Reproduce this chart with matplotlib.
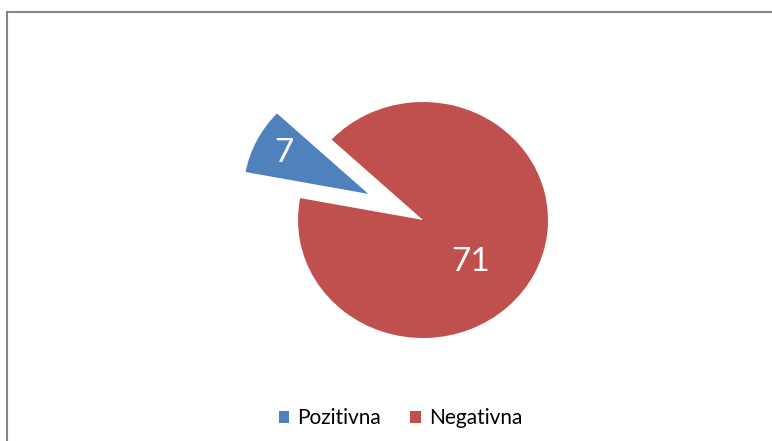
import numpy as np
import matplotlib.pyplot as plt
from matplotlib.patches import Patch
from matplotlib.lines import Line2D

plt.rcParams['font.family'] = ['Lato', 'DejaVu Sans']

labels = ['Pozitivna', 'Negativna']
values = [7, 71]
colors = ['#4F81BD', '#C0504D']
explode = [0.49, 0]
label_r = [0.76, 0.52]
label_shift = [0, -16]   # degrees, to follow the original label spots

fig = plt.figure(figsize=(7.72, 4.41), dpi=100)
ax = fig.add_axes([0.2889, 0.0730, 0.5181, 0.8562])

wedges, _ = ax.pie(values, colors=colors, explode=explode, startangle=137,
                   counterclock=True, wedgeprops=dict(linewidth=0))
ax.set_aspect('auto')
ax.set_xlim(-1.6, 1.6)
ax.set_ylim(-1.6, 1.6)
ax.axis('off')

for w, v, r, sh in zip(wedges, values, label_r, label_shift):
    mid = np.deg2rad((w.theta1 + w.theta2) / 2. + sh)
    cx, cy = w.center
    ax.text(cx + r*np.cos(mid), cy + r*np.sin(mid), str(v), color='white',
            fontsize=24, ha='center', va='center')

handles = [Patch(facecolor=c, edgecolor='none') for c in colors]
fig.legend(handles, labels, loc='center', bbox_to_anchor=(0.519, 0.052),
           ncol=2, frameon=False, fontsize=15, handlelength=0.5,
           handleheight=0.5, handletextpad=0.4, columnspacing=1.4)

# chart border (right and bottom run off the picture)
fig.add_artist(Line2D([0.0097, 1.0], [0.9717, 0.9717], color='#868686', lw=1.5))
fig.add_artist(Line2D([0.0097, 0.0097], [0.0, 0.9717], color='#868686', lw=1.5))

fig.savefig('out.png', dpi=100)
